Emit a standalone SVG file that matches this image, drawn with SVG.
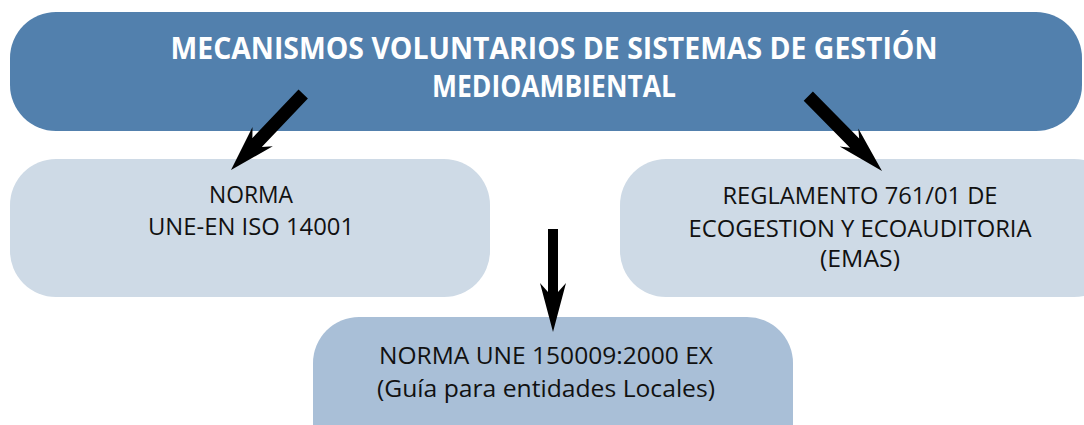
<svg xmlns="http://www.w3.org/2000/svg" width="1084" height="425" viewBox="0 0 1084 425">
<style>
.title{font-family:"Open Sans","Liberation Sans",sans-serif;font-weight:700;font-size:30px;fill:#ffffff;text-anchor:middle}
.body{font-family:"Open Sans","Liberation Sans",sans-serif;font-size:24px;fill:#111111;text-anchor:middle}
.arrow{fill:#000000}
</style>
<rect width="1084" height="425" fill="#ffffff"/>
<g id="node-top">
<rect x="10" y="12" width="1072" height="119" rx="46" ry="46" fill="#5280AD"/>
<text class="title" x="554" y="59" textLength="767" lengthAdjust="spacingAndGlyphs">MECANISMOS VOLUNTARIOS DE SISTEMAS DE GESTIÓN</text>
<text class="title" x="554" y="97" textLength="244" lengthAdjust="spacingAndGlyphs">MEDIOAMBIENTAL</text>
</g>
<g id="node-iso">
<rect x="10" y="159" width="480" height="138" rx="46" ry="46" fill="#CEDAE6"/>
<text class="body" x="251" y="203" textLength="84" lengthAdjust="spacingAndGlyphs">NORMA</text>
<text class="body" x="251" y="235" textLength="206" lengthAdjust="spacingAndGlyphs">UNE-EN ISO 14001</text>
</g>
<g id="node-emas">
<rect x="620" y="159" width="500" height="138" rx="46" ry="46" fill="#CEDAE6"/>
<text class="body" x="860" y="204" textLength="275" lengthAdjust="spacingAndGlyphs">REGLAMENTO 761/01 DE</text>
<text class="body" x="860" y="237" textLength="343" lengthAdjust="spacingAndGlyphs">ECOGESTION Y ECOAUDITORIA</text>
<text class="body" x="860" y="267" textLength="80" lengthAdjust="spacingAndGlyphs">(EMAS)</text>
</g>
<g id="node-une">
<rect x="313" y="317" width="480" height="160" rx="46" ry="46" fill="#A9BFD7"/>
<text class="body" x="546" y="364" textLength="334" lengthAdjust="spacingAndGlyphs">NORMA UNE 150009:2000 EX</text>
<text class="body" x="546" y="397" textLength="338" lengthAdjust="spacingAndGlyphs">(Guía para entidades Locales)</text>
</g>
<g id="connectors">
<polygon class="arrow" points="298.5,89.4 252.4,138.0 252.5,127.0 231,170 272.8,146.2 261.8,147.0 307.9,98.4"/>
<polygon class="arrow" points="812.9,91.6 859.2,138.6 858.3,128.4 882,171 839.7,146.6 850.0,147.8 803.7,100.8"/>
<polygon class="arrow" points="548,229 558,229 558,292 566,283 553,332 540,283 548,292"/>
</g>
</svg>
